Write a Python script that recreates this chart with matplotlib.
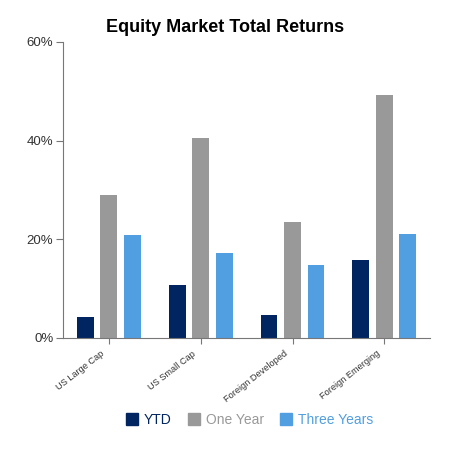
import matplotlib
matplotlib.use("Agg")
import matplotlib.pyplot as plt
import numpy as np
from matplotlib.lines import Line2D

categories = ["US Large Cap", "US Small Cap", "Foreign Developed", "Foreign Emerging"]
series_names = ["YTD", "One Year", "Three Years"]
ytd = [4.3, 10.8, 4.7, 15.8]
one_year = [29.0, 40.6, 23.5, 49.3]
three_years = [20.9, 17.2, 14.8, 21.1]
colors = ["#002561", "#999999", "#519ee0"]
yticks = [0, 20, 40, 60]
ytick_labels = ["0%", "20%", "40%", "60%"]

plt.rcParams['font.family'] = ['Liberation Sans', 'DejaVu Sans']
fig = plt.figure(figsize=(4.5, 4.5), dpi=100)
ax = fig.add_axes([0.14, 0.249, 0.816, 0.658])

x = np.arange(len(categories))
w = 0.185
step = 0.256
for i, (vals, c) in enumerate(zip([ytd, one_year, three_years], colors)):
    ax.bar(x + (i - 1) * step, vals, width=w, color=c, zorder=2)

ax.set_xlim(-0.5, len(categories) - 0.5)
ax.set_ylim(0, 60)
ax.set_yticks(yticks)
ax.set_yticklabels(ytick_labels, fontsize=9.5, color="#333333")
ax.set_xticks(x)
ax.set_xticklabels([])
for xi, cat in zip(x, categories):
    ax.annotate(cat, xy=(xi, 0), xycoords=("data", "axes fraction"),
                xytext=(-6, -8), textcoords="offset points", rotation=38,
                ha="right", va="top", rotation_mode="anchor",
                fontsize=6.6, color="#333333")
for s in ["top", "right"]:
    ax.spines[s].set_visible(False)
for s in ["left", "bottom"]:
    ax.spines[s].set_color("#777777")
    ax.spines[s].set_linewidth(0.8)
ax.tick_params(axis="y", length=5, color="#777777", pad=2)
ax.tick_params(axis="x", length=4, color="#777777")

fig.text(0.5, 0.94, "Equity Market Total Returns", ha="center", va="center",
         fontsize=13, fontweight="bold", color="#000000")

handles = [Line2D([], [], marker="s", linestyle="none", markersize=9,
                  markerfacecolor=c, markeredgecolor=c) for c in colors]
leg = fig.legend(handles, series_names, loc="center", bbox_to_anchor=(0.554, 0.066),
                 ncol=3, frameon=False, fontsize=10, handletextpad=0.35,
                 columnspacing=1.1, handlelength=1.0)
for t, c in zip(leg.get_texts(), colors):
    t.set_color(c)

fig.savefig("out.png", dpi=100)
